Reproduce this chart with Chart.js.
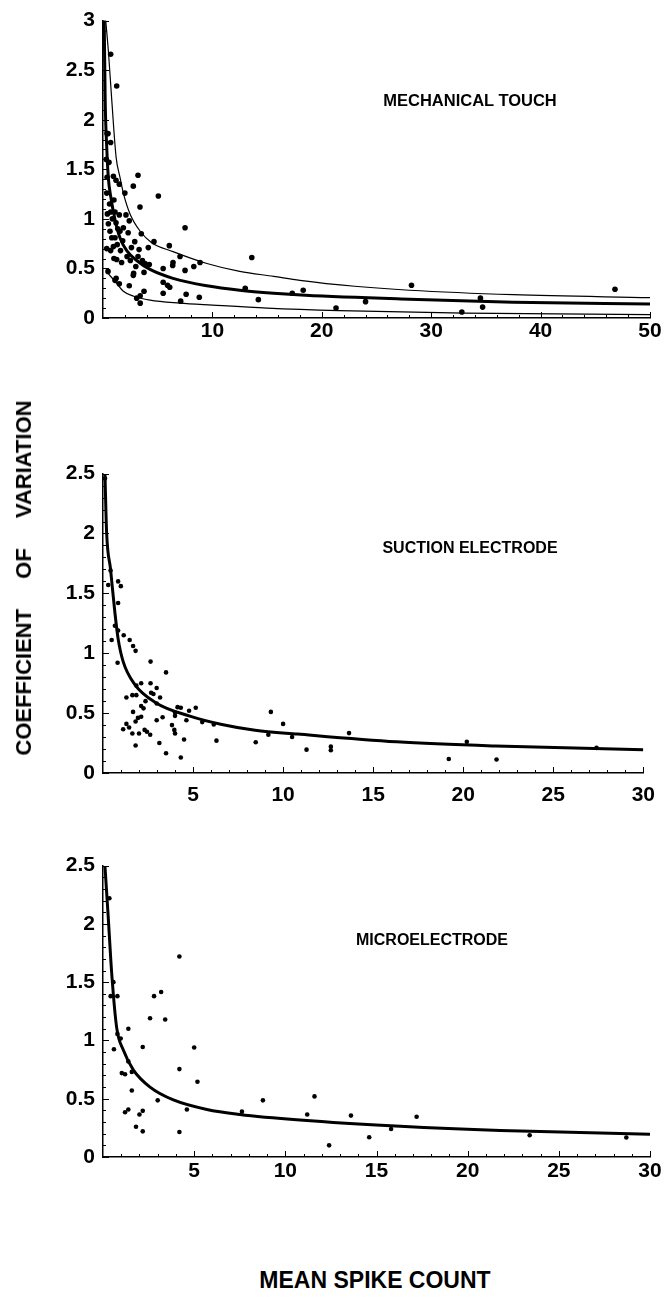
<!DOCTYPE html>
<html>
<head>
<meta charset="utf-8">
<script src="https://cdn.jsdelivr.net/npm/chart.js@4"></script>
<style>
  body { margin: 0; background: #fff; width: 665px; height: 1300px; position: relative; overflow: hidden; }
  canvas { position: absolute; left: 0; }
  .lbl { position: absolute; font-family: "Liberation Sans", Arial, sans-serif; font-weight: bold; color: #000; white-space: nowrap; transform: translate(-50%, -50%); }
  #ytitle { left: 24px; top: 578px; font-size: 22px; word-spacing: 24px; transform: translate(-50%, -50%) rotate(-90deg); }
  #xtitle { left: 375px; top: 1280px; font-size: 23px; }
</style>
</head>
<body>
<canvas id="touch" width="665" height="358" style="top:0px"></canvas>
<canvas id="suction" width="665" height="360" style="top:453px"></canvas>
<canvas id="micro" width="665" height="352" style="top:845px"></canvas>

<div class="lbl" style="left:470px;top:100px;font-size:16.5px">MECHANICAL TOUCH</div>
<div class="lbl" style="left:470px;top:548px;font-size:16px">SUCTION ELECTRODE</div>
<div class="lbl" style="left:432px;top:940px;font-size:16px">MICROELECTRODE</div>
<div class="lbl" id="ytitle">COEFFICIENT OF VARIATION</div>
<div class="lbl" id="xtitle">MEAN SPIKE COUNT</div>

<script>
// ---- Mechanical touch ----
const touchMean = [0.7, 1.25, 3.2, 0.46, 0.7, 0.55, 0.95, 1.19, 1.49, 2.77, 2.0, 0.34, 5.06, 1.0, 3.38,
  0.7, 1.1, 1.49, 2.1, 0.49, 2.4, 1.19, 1.86, 7.5, 1.55, 3.5, 0.8, 1.1, 2.9, 4.66, 1.3, 6.06, 2.6,
  4.14, 3.3, 0.7, 1.6, 7.04, 13.6, 1.25, 3.2, 1.7, 8.87, 3.84, 4.23, 6.37, 3.75, 5.5, 7.5, 8.3, 2.77,
  1.1, 1.49, 2.4, 5.5, 5.9, 6.1, 5.5, 3.75, 13.0, 7.6, 3.4, 3.08, 8.8, 18.3, 14.2, 7.1, 3.4, 0.46,
  1.2, 28.2, 46.8, 34.5, 34.7, 32.8, 24.0, 21.3, 17.3, 6.4, 2.8, 0.6, 0.85, 1.35, 0.95, 1.8, 2.2, 2.5,
  0.4, 1.0, 2.3, 3.0, 3.6, 0.3, 0.37, 0.37, 0.64, 0.34];
const touchCv = [2.66, 2.34, 1.44, 1.86, 1.77, 1.57, 1.43, 1.39, 1.35, 1.33, 1.26, 1.26, 1.23, 1.19, 1.12,
  1.07, 1.07, 1.04, 1.04, 0.95, 0.98, 0.96, 0.91, 0.91, 0.875, 0.85, 0.81, 0.81, 0.77, 0.77, 0.74, 0.73, 0.71,
  0.71, 0.69, 0.68, 0.68, 0.62, 0.61, 0.59, 0.62, 0.56, 0.56, 0.55, 0.54, 0.53, 0.46, 0.50, 0.48, 0.52, 0.43,
  0.38, 0.345, 0.325, 0.36, 0.33, 0.31, 0.25, 0.27, 0.30, 0.24, 0.225, 0.20, 0.21, 0.28, 0.185, 0.17, 0.15, 0.47,
  0.40, 0.33, 0.29, 0.20, 0.11, 0.06, 0.165, 0.10, 0.25, 0.56, 0.45, 1.15, 1.0, 0.9, 0.72, 0.78, 0.62, 0.58,
  1.05, 0.6, 0.86, 0.52, 0.58, 1.6, 1.86, 1.42, 0.875, 0.70];
const touchFitMean = [0.1, 0.2, 0.35, 0.49, 0.7, 1.1, 1.55, 2.17, 3.08, 4.3, 6.4, 9.5, 12.5, 15.6, 18.5, 28, 37.5, 50];
const touchFitCv = [3.1, 2.2, 1.7, 1.41, 1.23, 0.99, 0.81, 0.68, 0.58, 0.49, 0.40, 0.325, 0.28, 0.25, 0.23, 0.19, 0.16, 0.14];
const touchUpperMean = [0.25, 0.5, 0.8, 1.2, 1.55, 1.86, 2.47, 3.4, 4.45, 6.4, 9.5, 12.5, 15.6, 18, 23, 28, 37.5, 50];
const touchUpperCv = [3.0, 2.68, 2.2, 1.62, 1.42, 1.26, 1.05, 0.875, 0.76, 0.67, 0.55, 0.47, 0.42, 0.38, 0.32, 0.28, 0.235, 0.205];
const touchLowerMean = [0.45, 1.1, 1.86, 2.8, 4.3, 7, 10, 15, 21.6, 33, 50];
const touchLowerCv = [0.45, 0.37, 0.27, 0.22, 0.18, 0.15, 0.13, 0.1, 0.075, 0.05, 0.035];

// ---- Suction electrode ----
const suctionMean = [0.11, 0.42, 0.29, 0.84, 0.99, 0.84, 0.66, 0.84, 1.15, 0.48, 1.48, 1.67, 1.81, 0.81,
  2.64, 3.5, 2.12, 2.64, 2.98, 1.85, 2.67, 2.8, 1.85, 1.63, 1.3, 3.17, 2.36, 2.98, 2.12, 2.25, 4.14, 4.32,
  5.15, 4.78, 1.67, 4.0, 2.12, 1.94, 3.31, 4.0, 4.63, 2.98, 1.81, 5.51, 6.15, 1.3, 1.45, 3.83, 3.96, 4.0,
  1.12, 2.31, 2.44, 2.62, 1.63, 2.0, 4.5, 6.3, 3.13, 1.81, 8.48, 9.18, 9.32, 10.0, 10.5, 11.3, 3.5, 4.32,
  13.66, 12.65, 12.65, 19.2, 20.2, 21.85, 27.4];
const suctionCv = [2.46, 1.69, 1.57, 1.60, 1.56, 1.42, 1.23, 1.19, 1.15, 1.11, 1.11, 1.06, 1.02, 0.92,
  0.93, 0.84, 0.75, 0.75, 0.71, 0.73, 0.67, 0.66, 0.65, 0.65, 0.63, 0.63, 0.60, 0.58, 0.56, 0.54, 0.55, 0.545,
  0.545, 0.52, 0.51, 0.505, 0.47, 0.46, 0.465, 0.477, 0.44, 0.44, 0.43, 0.425, 0.405, 0.41, 0.38, 0.40, 0.36, 0.33,
  0.365, 0.36, 0.345, 0.32, 0.33, 0.33, 0.28, 0.27, 0.25, 0.23, 0.257, 0.32, 0.51, 0.41, 0.30, 0.195, 0.165, 0.13,
  0.333, 0.22, 0.19, 0.117, 0.26, 0.113, 0.21];
const suctionFitMean = [0.11, 0.2, 0.42, 0.66, 0.84, 1.12, 1.76, 2.95, 4.78, 6.6, 8.45, 10.8, 16.3, 21.8, 30];
const suctionFitCv = [2.49, 2.01, 1.70, 1.34, 1.12, 0.93, 0.74, 0.585, 0.477, 0.405, 0.357, 0.325, 0.26, 0.225, 0.194];

// ---- Microelectrode ----
const microMean = [0.35, 4.19, 0.57, 0.42, 0.79, 2.8, 3.19, 2.58, 3.41, 1.39, 0.79, 0.97, 2.18, 5.0, 0.6,
  1.39, 4.19, 1.03, 1.21, 1.58, 5.18, 1.58, 3.0, 8.77, 4.6, 1.39, 1.21, 2.18, 2.0, 7.62, 11.2, 1.81, 2.18,
  4.19, 11.6, 13.6, 17.2, 14.6, 15.8, 23.4, 28.7, 12.4];
const microCv = [2.22, 1.72, 1.50, 1.38, 1.38, 1.38, 1.415, 1.19, 1.18, 1.10, 1.056, 1.017, 0.944, 0.94, 0.925,
  0.82, 0.754, 0.72, 0.71, 0.73, 0.645, 0.57, 0.486, 0.486, 0.408, 0.408, 0.384, 0.396, 0.365, 0.389, 0.365, 0.26, 0.22,
  0.215, 0.52, 0.355, 0.345, 0.17, 0.24, 0.186, 0.167, 0.10];
const microFitMean = [0.11, 0.29, 0.48, 0.75, 1.12, 1.67, 2.58, 3.86, 5.7, 7.5, 10.8, 16.3, 21.8, 30];
const microFitCv = [2.49, 2.05, 1.57, 1.11, 0.915, 0.746, 0.60, 0.49, 0.408, 0.365, 0.317, 0.263, 0.227, 0.196];

/**
 * Mathematica style ticks drawn inward from the axes
 */
const innerTicks = {
  id: 'innerTicks',
  afterDraw(chart, args, o) {
    const { ctx, chartArea: a, scales: { x, y } } = chart;
    ctx.save();
    ctx.strokeStyle = '#000';
    ctx.lineWidth = 1;
    ctx.beginPath();
    const ny = Math.round(y.max / o.yMinor);
    for (let i = 0; i <= ny; i++) {
      const py = Math.round(y.getPixelForValue(i * o.yMinor)) + 0.5;
      const len = i % o.yEvery === 0 ? 6 : 3;
      ctx.moveTo(a.left, py);
      ctx.lineTo(a.left + len, py);
    }
    const nx = Math.round(x.max / o.xMinor);
    for (let i = 1; i <= nx; i++) {
      const px = Math.round(x.getPixelForValue(i * o.xMinor)) + 0.5;
      const len = i % o.xEvery === 0 ? 6 : 3;
      ctx.moveTo(px, a.bottom);
      ctx.lineTo(px, a.bottom - len);
    }
    ctx.stroke();
    ctx.restore();
  }
};

function pairs(xs, ys) {
  return xs.map((v, i) => ({ x: v, y: ys[i] }));
}

function curve(xs, ys, width) {
  return {
    data: pairs(xs, ys),
    showLine: true,
    borderColor: '#000',
    borderWidth: width,
    pointRadius: 0,
    cubicInterpolationMode: 'monotone'
  };
}

function makePanel(id, cfg) {
  const font = { family: '"Liberation Sans", Arial, sans-serif', size: 21, weight: 'bold' };
  const datasets = [{
    data: pairs(cfg.mean, cfg.cv),
    pointRadius: cfg.dot,
    pointBackgroundColor: '#000',
    pointBorderWidth: 0,
    showLine: false
  }];
  cfg.curves.forEach(c => datasets.push(curve(c[0], c[1], c[2])));

  new Chart(document.getElementById(id), {
    type: 'scatter',
    data: { datasets: datasets },
    options: {
      responsive: false,
      animation: false,
      layout: { autoPadding: false, padding: { top: 12, right: 15, left: 0, bottom: 0 } },
      plugins: {
        legend: { display: false },
        tooltip: { enabled: false },
        innerTicks: cfg.ticks
      },
      scales: {
        x: {
          type: 'linear',
          min: 0,
          max: cfg.xMax,
          grid: { display: false, drawTicks: false },
          border: { color: '#000', width: 1.5 },
          ticks: {
            stepSize: cfg.xStep,
            color: '#000',
            font: font,
            padding: cfg.xPad,
            maxRotation: 0,
            callback: v => (v === 0 ? '' : String(v))
          },
          afterFit: s => { s.height = 40; }
        },
        y: {
          min: 0,
          max: cfg.yMax,
          grid: { display: false, drawTicks: false },
          border: { color: '#000', width: 1.5 },
          ticks: {
            stepSize: 0.5,
            color: '#000',
            font: font,
            padding: 8,
            callback: v => String(Math.round(v * 10) / 10)
          },
          afterFit: s => { s.width = 103; }
        }
      }
    },
    plugins: [innerTicks]
  });
}

makePanel('touch', {
  mean: touchMean, cv: touchCv, dot: 2.8, xMax: 50, xStep: 10, yMax: 3, xPad: 1,
  ticks: { yMinor: 0.1, yEvery: 5, xMinor: 2, xEvery: 5 },
  curves: [
    [touchFitMean, touchFitCv, 3],
    [touchUpperMean, touchUpperCv, 1.2],
    [touchLowerMean, touchLowerCv, 1.2]
  ]
});

makePanel('suction', {
  mean: suctionMean, cv: suctionCv, dot: 2.3, xMax: 30, xStep: 5, yMax: 2.5, xPad: 10,
  ticks: { yMinor: 0.1, yEvery: 5, xMinor: 1, xEvery: 5 },
  curves: [[suctionFitMean, suctionFitCv, 3]]
});

makePanel('micro', {
  mean: microMean, cv: microCv, dot: 2.3, xMax: 30, xStep: 5, yMax: 2.5, xPad: 2,
  ticks: { yMinor: 0.1, yEvery: 5, xMinor: 1, xEvery: 5 },
  curves: [[microFitMean, microFitCv, 3]]
});
</script>
</body>
</html>
